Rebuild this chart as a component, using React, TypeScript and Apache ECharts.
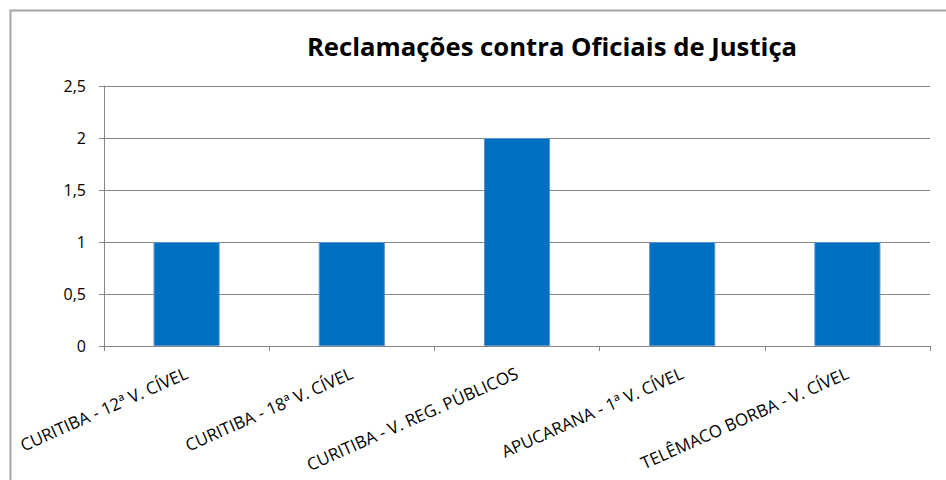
import React, { useEffect, useRef } from "react";
import * as echarts from "echarts";

const categories = [
  "CURITIBA - 12ª V. CÍVEL",
  "CURITIBA - 18ª V. CÍVEL",
  "CURITIBA - V. REG. PÚBLICOS",
  "APUCARANA - 1ª V. CÍVEL",
  "TELÊMACO BORBA - V. CÍVEL",
];
const values = [1, 1, 2, 1, 1];
const titleText = "Reclamações contra Oficiais de Justiça";

export default function App() {
  const ref = useRef<HTMLDivElement>(null);
  useEffect(() => {
    document.body.style.margin = "0";
    const chart = echarts.init(ref.current!, undefined, { renderer: "svg" });
    chart.setOption({
      animation: false,
      backgroundColor: "#ffffff",
      graphic: [
        {
          type: "rect",
          shape: { x: 10.5, y: 10.5, width: 1000, height: 1000 },
          style: { fill: "none", stroke: "#a6a6a6", lineWidth: 2 },
          silent: true,
        },
      ],
      title: {
        text: titleText,
        left: 547,
        textAlign: "center",
        top: 28,
        textStyle: {
          fontFamily: "Open Sans",
          fontWeight: "bold",
          fontSize: 25.7,
          color: "#000",
        },
      },
      grid: { left: 104, right: 16, top: 86, bottom: 134 },
      xAxis: {
        type: "category",
        data: categories,
        axisLine: { lineStyle: { color: "#868686", width: 1 } },
        axisTick: { show: true, length: 5, alignWithLabel: false, lineStyle: { color: "#868686" } },
        axisLabel: {
          rotate: 24,
          interval: 0,
          margin: 26,
          fontFamily: "Open Sans",
          fontSize: 17,
          color: "#000",
        },
      },
      yAxis: {
        type: "value",
        min: 0,
        max: 2.5,
        interval: 0.5,
        axisLine: { show: true, lineStyle: { color: "#868686" } },
        axisTick: { show: true, length: 5, lineStyle: { color: "#868686" } },
        splitLine: { lineStyle: { color: "#868686", width: 1 } },
        axisLabel: {
          margin: 18,
          fontFamily: "Open Sans",
          fontSize: 16,
          color: "#000",
          formatter: (v: number) => String(v).replace(".", ","),
        },
      },
      series: [
        {
          type: "bar",
          data: values,
          barWidth: "40%",
          itemStyle: { color: "#0070C0", borderColor: "#5b8fd0", borderWidth: 1 },
        },
      ],
    });
    return () => chart.dispose();
  }, []);
  return <div ref={ref} style={{ width: 946, height: 480 }} />;
}
